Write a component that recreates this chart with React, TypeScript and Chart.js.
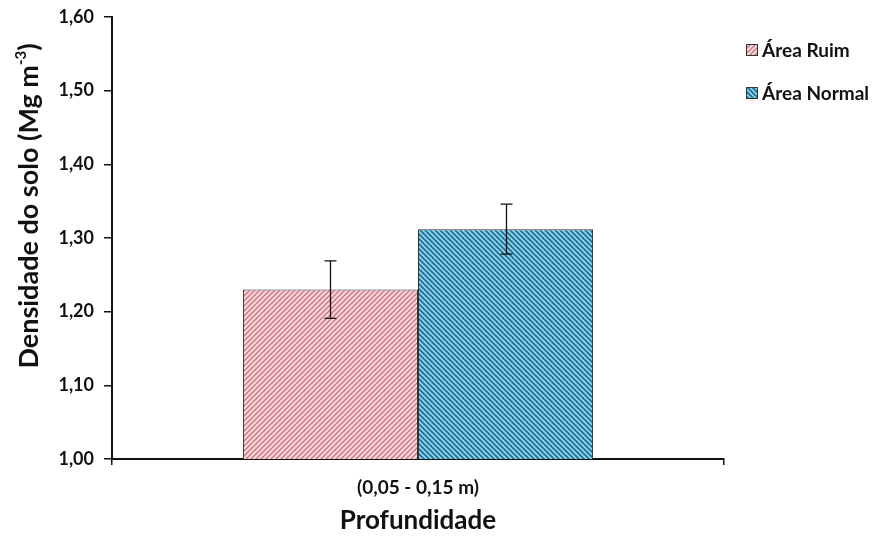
import React, { useEffect, useRef } from "react";
import { Chart, registerables } from "chart.js";

Chart.register(...registerables);

const categories = ["(0,05 - 0,15 m)"];
const seriesNames = ["Área Ruim", "Área Normal"];
const ruimValues = [1.23];
const normalValues = [1.312];
const ruimErrors = [0.039];
const normalErrors = [0.034];
const yTicks = [1.0, 1.1, 1.2, 1.3, 1.4, 1.5, 1.6];

const FONT = "Lato, 'Open Sans', sans-serif";

function makePattern(bg: string, fg: string, dir: "up" | "down", size: number, lw: number) {
  const c = document.createElement("canvas");
  c.width = size;
  c.height = size;
  const ctx = c.getContext("2d")!;
  ctx.fillStyle = bg;
  ctx.fillRect(0, 0, size, size);
  ctx.strokeStyle = fg;
  ctx.lineWidth = lw;
  ctx.beginPath();
  if (dir === "up") {
    ctx.moveTo(-1, size + 1); ctx.lineTo(size + 1, -1);
    ctx.moveTo(-1, 1); ctx.lineTo(1, -1);
    ctx.moveTo(size - 1, size + 1); ctx.lineTo(size + 1, size - 1);
  } else {
    ctx.moveTo(-1, -1); ctx.lineTo(size + 1, size + 1);
    ctx.moveTo(size - 1, -1); ctx.lineTo(size + 1, 1);
    ctx.moveTo(-1, size - 1); ctx.lineTo(1, size + 1);
  }
  ctx.stroke();
  const p = document.createElement("canvas").getContext("2d")!.createPattern(c, "repeat")!;
  return p;
}

export default function App() {
  const ref = useRef<HTMLCanvasElement>(null);
  useEffect(() => {
    const redPat = makePattern("#f8d8dc", "#cc7480", "up", 5, 1.4);
    const bluePat = makePattern("#a2e6f4", "#2a78a2", "down", 5, 2.2);
    const errs = [ruimErrors, normalErrors];

    const errorBars = {
      id: "errorBars",
      afterDatasetsDraw(chart: any) {
        const ctx = chart.ctx;
        const y = chart.scales.y;
        ctx.save();
        ctx.strokeStyle = "#111";
        ctx.lineWidth = 1.3;
        chart.data.datasets.forEach((ds: any, di: number) => {
          const meta = chart.getDatasetMeta(di);
          meta.data.forEach((el: any, i: number) => {
            const v = ds.data[i];
            const e = errs[di][i];
            const x = Math.round(el.x) + 0.5;
            const yt = y.getPixelForValue(v + e);
            const yb = y.getPixelForValue(v - e);
            ctx.beginPath();
            ctx.moveTo(x, yt); ctx.lineTo(x, yb);
            ctx.moveTo(x - 6, yt); ctx.lineTo(x + 6, yt);
            ctx.moveTo(x - 6, yb); ctx.lineTo(x + 6, yb);
            ctx.stroke();
          });
        });
        ctx.restore();
      },
    };

    const extras = {
      id: "extras",
      afterDraw(chart: any) {
        const ctx = chart.ctx;
        ctx.save();
        // y title
        ctx.translate(29, 206);
        ctx.rotate(-Math.PI / 2);
        ctx.fillStyle = "#111";
        ctx.textBaseline = "middle";
        ctx.textAlign = "left";
        const main = "Densidade do solo (Mg m";
        const sup = "-3";
        const end = ")";
        ctx.font = `bold 27px ${FONT}`;
        const w1 = ctx.measureText(main).width;
        const w3 = ctx.measureText(end).width;
        ctx.font = `bold 15px ${FONT}`;
        const w2 = ctx.measureText(sup).width;
        const total = w1 + w2 + w3;
        let x = -total / 2;
        ctx.font = `bold 27px ${FONT}`;
        ctx.fillText(main, x, 0);
        x += w1;
        ctx.font = `bold 15px ${FONT}`;
        ctx.fillText(sup, x, -8);
        x += w2;
        ctx.font = `bold 27px ${FONT}`;
        ctx.fillText(end, x, 0);
        ctx.restore();

        // legend
        ctx.save();
        const pats = [redPat, bluePat];
        const ys = [50, 93];
        seriesNames.forEach((n, i) => {
          ctx.fillStyle = pats[i];
          ctx.fillRect(746, ys[i] - 6, 12, 12);
          ctx.strokeStyle = "#333";
          ctx.lineWidth = 1;
          ctx.strokeRect(746.5, ys[i] - 5.5, 11, 11);
          ctx.fillStyle = "#111";
          ctx.font = `bold 19px ${FONT}`;
          ctx.textBaseline = "middle";
          ctx.textAlign = "left";
          ctx.fillText(n, 762, ys[i] + 1);
        });
        ctx.restore();
      },
    };

    const chart = new Chart(ref.current!, {
      type: "bar",
      data: {
        labels: categories,
        datasets: [
          {
            label: seriesNames[0],
            data: ruimValues,
            backgroundColor: redPat as any,
            borderColor: "#333",
            borderWidth: 1,
            barPercentage: 1,
            categoryPercentage: 0.572,
          },
          {
            label: seriesNames[1],
            data: normalValues,
            backgroundColor: bluePat as any,
            borderColor: "#333",
            borderWidth: 1,
            barPercentage: 1,
            categoryPercentage: 0.572,
          },
        ],
      },
      options: {
        responsive: false,
        animation: false,
        layout: { padding: { left: 0, right: 159, top: 17, bottom: 0 } },
        plugins: { legend: { display: false }, tooltip: { enabled: false } },
        scales: {
          x: {
            grid: { display: true, drawOnChartArea: false, drawTicks: true, tickLength: 6, color: "#111", lineWidth: 1.5 },
            border: { display: true, color: "#111", width: 2 },
            ticks: { color: "#111", font: { family: FONT, size: 19, weight: "bold" }, padding: 11 },
            title: {
              display: true,
              text: "Profundidade",
              color: "#111",
              font: { family: FONT, size: 26, weight: "bold" },
              padding: { top: 4, bottom: 3.5 },
            },
            afterFit(scale: any) { scale.height = 81; },
          },
          y: {
            min: 1.0,
            max: 1.6,
            afterBuildTicks(scale: any) { scale.ticks = yTicks.map((v) => ({ value: v })); },
            grid: { display: true, drawOnChartArea: false, drawTicks: true, tickLength: 8, color: "#111", lineWidth: 1.5 },
            border: { display: true, color: "#111", width: 2 },
            ticks: {
              color: "#111",
              font: { family: FONT, size: 18, weight: "bold" },
              padding: 10,
              callback: (v: any) => Number(v).toFixed(2).replace(".", ","),
            },
            afterFit(scale: any) {
              scale.width = 112;
              scale.paddingTop = 3;
              scale.paddingBottom = 3;
            },
          },
        },
      },
      plugins: [errorBars, extras],
    });
    return () => chart.destroy();
  }, []);
  return (
    <div style={{ position: "absolute", left: 0, top: 0, width: 883, height: 540, background: "#fff" }}>
      <canvas ref={ref} width={883} height={540} />
    </div>
  );
}
